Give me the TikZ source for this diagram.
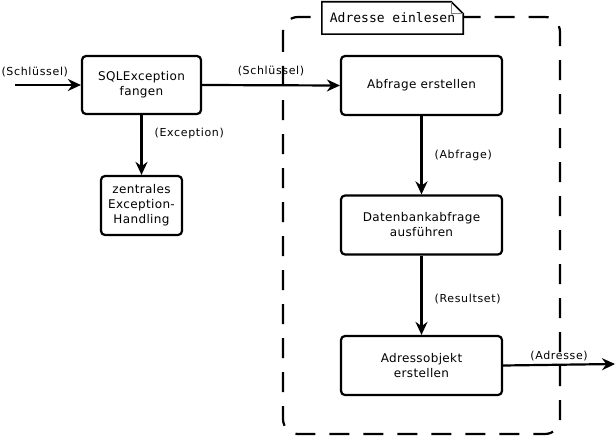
\documentclass[tikz,border=0pt]{standalone}
\usepackage{fontspec}
\setmainfont{DejaVu Sans}
\setmonofont{DejaVu Sans Mono}
\newfontfamily\labelfont[LetterSpace=6]{DejaVu Sans}
\newfontfamily\boxfont[LetterSpace=3]{DejaVu Sans}
\usetikzlibrary{positioning, arrows.meta}

\begin{document}
\begin{tikzpicture}[
    x=1pt, y=-1pt,
    >={Stealth[length=13pt, width=12pt]},
    step box/.style={
        draw, rectangle, rounded corners=4pt, line width=2.2pt,
        align=center, font=\boxfont\fontsize{12}{15}\selectfont
    },
    flow/.style={->, line width=2.2pt},
    flowlabel/.style={font=\labelfont\fontsize{11}{12}\selectfont, inner sep=2pt}
]
\useasboundingbox (0,0) rectangle (616,436);

% -------------------------
% Frame (Adresse einlesen)
% -------------------------
\draw[line width=2.2pt, rounded corners=15pt, dash pattern=on 20pt off 14pt]
    (283,17) rectangle (560,434);

\node[fill=white, minimum width=141pt, minimum height=32pt, inner sep=0pt,
      font=\ttfamily\fontsize{13}{15}\selectfont] (title) at (392.5,18) {Adresse einlesen};
\draw[line width=1.6pt] (title.south west) -- (title.north west)
    -- ([xshift=-12pt]title.north east) -- ([yshift=-12pt]title.north east)
    -- (title.south east) -- cycle;
\draw[gray, line width=1pt] ([xshift=-12pt]title.north east)
    -- ([xshift=-12pt, yshift=-12pt]title.north east) -- ([yshift=-12pt]title.north east);

% -------------------------
% Steps
% -------------------------

% 1. SQLException fangen (left)
\node[step box, minimum width=119pt, minimum height=58pt] (catch) at (141.5,85) {SQLException\\fangen};

% 2. zentrales Exception-Handling (below left)
\node[step box, minimum width=81pt, minimum height=59pt, inner sep=1pt] (handling) at (141.5,205.5) {zentrales\\Exception-\\Handling};

% 3. Abfrage erstellen
\node[step box, minimum width=161pt, minimum height=59pt] (query) at (421.5,85.5) {Abfrage erstellen};

% 4. Datenbankabfrage ausfuehren
\node[step box, minimum width=161pt, minimum height=59pt] (execute) at (421.5,225) {Datenbankabfrage\\ausführen};

% 5. Adressobjekt erstellen
\node[step box, minimum width=161pt, minimum height=59pt] (build) at (421.5,365.5) {Adressobjekt\\erstellen};

% free ends
\coordinate (in) at (15,85);
\coordinate (out) at (615,364);

% -------------------------
% Connections
% -------------------------
\draw[flow] (in) -- (catch.west)
    node[pos=0.3, above=5pt, flowlabel] {(Schlüssel)};

\draw[flow] (catch.east) -- (query.west)
    node[midway, above=6pt, flowlabel] {(Schlüssel)};

\draw[flow] (catch.south) -- (handling.north)
    node[pos=0.3, right=10pt, flowlabel] {(Exception)};

\draw[flow] (query.south) -- (execute.north)
    node[midway, right=10pt, flowlabel] {(Abfrage)};

\draw[flow] (execute.south) -- (build.north)
    node[pos=0.55, right=10pt, flowlabel] {(Resultset)};

\draw[flow] (build.east) -- (out)
    node[midway, above=1pt, flowlabel] {(Adresse)};

\end{tikzpicture}
\end{document}
